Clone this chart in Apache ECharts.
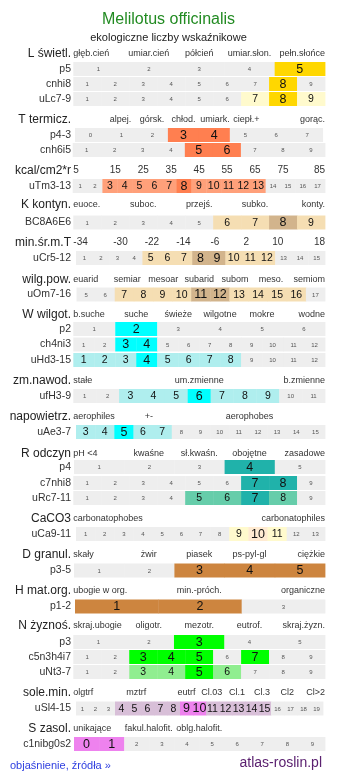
<!DOCTYPE html>
<html><head><meta charset="utf-8">
<script src="https://cdn.jsdelivr.net/npm/echarts@6/dist/echarts.min.js"></script>
<style>html,body{margin:0;padding:0;background:#fff}#c{width:337px;height:781px}</style>
</head><body><div id="c"></div>
<script>
const FONT = '"Liberation Sans", Arial, Helvetica, sans-serif';

// ---- data: header tick labels and rows [label, first cell number, levels (0 none, 1 range, 2 mode)] ----
const headL = ['głęb.cień','umiar.cień','półcień','umiar.słon.','pełn.słońce'];
const rowsL = [
  ['p5', 1, [0,0,0,0,2]],
  ['cnhi8', 1, [0,0,0,0,0,0,0,2,0]],
  ['uLc7-9', 1, [0,0,0,0,0,0,1,2,1]]
];
const headT = ['', 'alpej.','górsk.','chłod.','umiark.','ciepł.+','','gorąc.'];
const rowsT = [
  ['p4-3', 0, [0,0,0,2,2,0,0,0]],
  ['cnh6i5', 1, [0,0,0,0,2,2,0,0,0]]
];
const headKcal = ['5','15','25','35','45','55','65','75','85'];
const rowsKcal = [['uTm3-13', 1, [0,0,1,1,1,1,1,2,1,1,1,1,1,0,0,0,0]]];
const headK = ['euoce.','','suboc.','','przejś.','','subko.','','konty.'];
const rowsK = [['BC8A6E6', 1, [0,0,0,0,0,1,1,2,1]]];
const headMin = ['-34','-30','-22','-14','-6','2','10','18'];
const rowsMin = [['uCr5-12', 1, [0,0,0,0,1,1,1,2,2,1,1,1,0,0,0]]];
const headWp = ['euarid','semiar','mesoar','subarid','subom','meso.','semiom'];
const rowsWp = [['uOm7-16', 5, [0,0,1,1,1,1,2,2,1,1,1,1,0]]];
const headW = ['b.suche','suche','świeże','wilgotne','mokre','wodne'];
const rowsW = [
  ['p2', 1, [0,2,0,0,0,0]],
  ['ch4ni3', 1, [0,0,2,2,0,0,0,0,0,0,0,0]],
  ['uHd3-15', 1, [1,1,1,2,1,1,1,1,0,0,0,0]]
];
const headZm = ['stałe','um.zmienne','b.zmienne'];
const rowsZm = [['ufH3-9', 1, [0,0,1,1,1,2,1,1,1,0,0]]];
const headA = ['aerophiles','+-','','aerophobes',''];
const rowsA = [['uAe3-7', 3, [1,1,2,1,1,0,0,0,0,0,0,0,0]]];
const headR = ['pH <4','kwaśne','sł.kwaśn.','obojętne','zasadowe'];
const rowsR = [
  ['p4', 1, [0,0,0,2,0]],
  ['c7nhi8', 1, [0,0,0,0,0,0,2,2,0]],
  ['uRc7-11', 1, [0,0,0,0,1,1,2,1,0]]
];
const headCa = ['carbonatophobes','carbonatophiles'];
const rowsCa = [['uCa9-11', 1, [0,0,0,0,0,0,0,0,1,2,1,0,0]]];
const headD = ['skały','żwir','piasek','ps-pyl-gl','ciężkie'];
const rowsD = [['p3-5', 1, [0,0,2,2,2]]];
const headH = ['ubogie w org.','min.-próch.','organiczne'];
const rowsH = [['p1-2', 1, [2,2,0]]];
const headN = ['skraj.ubogie','oligotr.','mezotr.','eutrof.','skraj.żyzn.'];
const rowsN = [
  ['p3', 1, [0,0,2,0,0]],
  ['c5n3h4i7', 1, [0,0,2,2,2,0,2,0,0]],
  ['uNt3-7', 1, [0,0,1,1,2,1,0,0,0]]
];
const headSl = ['olgtrf','','mztrf','','eutrf','Cl.03','Cl.1','Cl.3','Cl2','Cl>2'];
const rowsSl = [['uSl4-15', 1, [0,0,0,1,1,1,1,1,2,2,1,1,1,1,1,0,0,0,0]]];
const headS = ['unikające','fakul.halofit.','oblg.halofit.','',''];
const rowsS = [['c1nibg0s2', 0, [2,2,0,0,0,0,0,0,0,0]]];

// ---- layout ----
const sections = [
  {name:'L świetl.', head:headL, rows:rowsL, y:53.5, tops:[62,77,92], lefts:[73.3,73.3,73.3], col:['#FFFACD','#FFD700']},
  {name:'T termicz.', head:headT, rows:rowsT, y:120, tops:[128,143], lefts:[75,72.7], rights:[322.7,325], col:['#FFA07A','#FF7F50']},
  {name:'kcal/cm2*r', head:headKcal, rows:rowsKcal, y:170.7, tops:[179], lefts:[72.7], col:['#FFA07A','#FF7F50'], hfs:10},
  {name:'K kontyn.', head:headK, rows:rowsK, y:205, tops:[215.5], lefts:[73.3], col:['#F5DEB3','#D2B48C']},
  {name:'min.śr.m.T', head:headMin, rows:rowsMin, y:242.7, tops:[251], lefts:[76], col:['#F5DEB3','#D2B48C'], hfs:10},
  {name:'wilg.pow.', head:headWp, rows:rowsWp, y:279.3, tops:[287.5], lefts:[76.5], col:['#F5DEB3','#D2B48C']},
  {name:'W wilgot.', head:headW, rows:rowsW, y:315, tops:[322,337.5,353], lefts:[73.3,73.3,73.3], col:['#AFEEEE','#00FFFF']},
  {name:'zm.nawod.', head:headZm, rows:rowsZm, y:380.7, tops:[389], lefts:[73.3], col:['#AFEEEE','#00FFFF']},
  {name:'napowietrz.', head:headA, rows:rowsA, y:416.7, tops:[425], lefts:[76], col:['#AFEEEE','#00FFFF']},
  {name:'R odczyn', head:headR, rows:rowsR, y:453.3, tops:[460,476,491], lefts:[74,73.3,73.3], col:['#66CDAA','#20B2AA']},
  {name:'CaCO3', head:headCa, rows:rowsCa, y:519, tops:[527], lefts:[76], col:['#FFFACD','#FFEBD2']},
  {name:'D granul.', head:headD, rows:rowsD, y:555, tops:[563.5], lefts:[74], col:['#CD853F','#CD853F']},
  {name:'H mat.org.', head:headH, rows:rowsH, y:590.7, tops:[599.5], lefts:[75], col:['#CD853F','#CD853F']},
  {name:'N żyznoś.', head:headN, rows:rowsN, y:626, tops:[635,650,665], lefts:[73.3,73.3,73.3], col:['#90EE90','#00FF00']},
  {name:'sole.min.', head:headSl, rows:rowsSl, y:692.3, tops:[701.5], lefts:[76], rights:[323], col:['#D8BFD8','#EE82EE']},
  {name:'S zasol.', head:headS, rows:rowsS, y:729, tops:[737], lefts:[74], col:['#D8BFD8','#EE82EE']}
];

const W = 337, LABEL_RIGHT = 71, HEAD_LEFT = 73.3, HEAD_RIGHT = 325, ROW_H = 14;
const grid = [], xAxis = [], yAxis = [], series = [];

function addGrid(left, right, top, height, n, label, fs, color) {
  const g = grid.length;
  grid.push({left, right: W - right, top, height, outerBoundsMode: 'none', containLabel: false});
  xAxis.push({type:'value', gridIndex:g, min:0, max:n, show:false});
  yAxis.push({type:'category', gridIndex:g, data:[label], axisLine:{show:false}, axisTick:{show:false}, splitLine:{show:false},
    axisLabel:{show:true, fontSize:fs, color, fontFamily:FONT, margin: left - LABEL_RIGHT}});
  return g;
}

function headRender(texts, fs) {
  return function(params, api) {
    const i = api.value(0), t = texts[i];
    if (!t) return null;
    const p0 = api.coord([i, 0]), p1 = api.coord([i + 1, 0]);
    const n = texts.length;
    let x = (p0[0] + p1[0]) / 2, align = 'center';
    if (i === 0) { x = p0[0]; align = 'left'; }
    else if (i === n - 1) { x = p1[0]; align = 'right'; }
    return {type:'text', style:{text:t, x, y:p0[1], align, verticalAlign:'middle', fontSize:fs, fontFamily:FONT, fill:'#333'}};
  };
}

function rowRender(colors) {
  return function(params, api) {
    const i0 = api.value(0), i1 = api.value(1), num = api.value(2), lv = api.value(3);
    const p0 = api.coord([i0, 0]), p1 = api.coord([i1, 0]);
    const h = api.size([0, 1])[1];
    const fill = lv === 2 ? colors[1] : (lv === 1 ? colors[0] : '#EEEEEE');
    const fs = lv === 2 ? 12.5 : (lv === 1 ? 10.5 : 6);
    const tc = lv === 0 ? '#555' : '#111';
    return {type:'group', children:[
      {type:'rect', shape:{x:p0[0], y:p0[1] - h / 2, width:p1[0] - p0[0] + 0.4, height:h}, style:{fill}},
      {type:'text', style:{text:String(num), x:(p0[0] + p1[0]) / 2, y:p0[1] + 0.5, align:'center', verticalAlign:'middle', fontSize:fs, fontFamily:FONT, fill:tc}}
    ]};
  };
}

sections.forEach(sec => {
  const g = addGrid(HEAD_LEFT, HEAD_RIGHT, sec.y - 7, 14, sec.head.length, sec.name, 12, '#222');
  series.push({type:'custom', xAxisIndex:g, yAxisIndex:g, renderItem: headRender(sec.head, sec.hfs || 9),
    data: sec.head.map((t, i) => [i, i + 1, 0]), encode:{x:[0,1], y:2}, silent:true});
  sec.rows.forEach((r, k) => {
    const [label, from, levels] = r;
    const right = sec.rights ? sec.rights[k] : HEAD_RIGHT;
    const rg = addGrid(sec.lefts[k], right, sec.tops[k], ROW_H, levels.length, label, 10.5, '#333');
    series.push({type:'custom', xAxisIndex:rg, yAxisIndex:rg, renderItem: rowRender(sec.col),
      data: levels.map((lv, i) => [i, i + 1, from + i, lv, 0]), encode:{x:[0,1], y:4}, silent:true});
  });
});

const chart = echarts.init(document.getElementById('c'), null, {renderer:'canvas'});
chart.setOption({
  animation:false,
  textStyle:{fontFamily:FONT},
  title:[
    {text:'Melilotus officinalis', left:'center', top:11, padding:0, textStyle:{fontSize:16, lineHeight:18, fontWeight:'normal', color:'#228B22', fontFamily:FONT}},
    {text:'ekologiczne liczby wskaźnikowe', left:'center', top:31.8, padding:0, textStyle:{fontSize:11, lineHeight:13, fontWeight:'normal', color:'#222', fontFamily:FONT}},
    {text:'objaśnienie, źródła »', left:10, top:759.5, padding:0, textStyle:{fontSize:11, lineHeight:13, fontWeight:'normal', color:'#3040e0', fontFamily:FONT}},
    {text:'atlas-roslin.pl', right:15, top:754.7, padding:0, textStyle:{fontSize:14, lineHeight:16, fontWeight:'normal', color:'#5b2170', fontFamily:FONT}}
  ],
  grid, xAxis, yAxis, series
});
</script></body></html>
